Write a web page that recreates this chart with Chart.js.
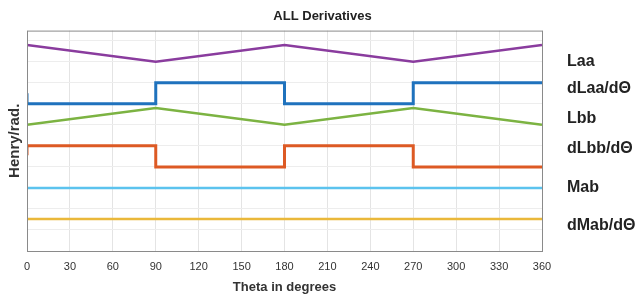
<!DOCTYPE html>
<html>
<head>
<meta charset="utf-8">
<script src="https://cdn.jsdelivr.net/npm/chart.js@4"></script>
<style>
  html, body { margin: 0; padding: 0; background: #fff; }
  #wrap { width: 639px; height: 295px; }
</style>
</head>
<body>
<div id="wrap"><canvas id="myChart"></canvas></div>
<script>
// values (y in arbitrary grid units, no labels shown)
const theta = [0, 90, 180, 270, 360];
const stepTheta = [0, 0, 90, 180, 270, 360];
const laa = [9.8, 9.0, 9.8, 9.0, 9.8];
const dLaa = [7.5, 7.0, 8.0, 7.0, 8.0, 8.0];
const lbb = [6.0, 6.8, 6.0, 6.8, 6.0];
const dLbb = [4.55, 5.0, 4.0, 5.0, 4.0, 4.0];
const mab = [3.0, 3.0, 3.0, 3.0, 3.0];
const dMab = [1.52, 1.52, 1.52, 1.52, 1.52];
const xTicks = [0, 30, 60, 90, 120, 150, 180, 210, 240, 270, 300, 330, 360];
const seriesNames = ["Laa", "dLaa/d\u0398", "Lbb", "dLbb/d\u0398", "Mab", "dMab/d\u0398"];
const nameLevels = [9.0, 7.7, 6.3, 4.85, 3.0, 1.2];

const pts = (xs, ys) => xs.map((x, i) => ({ x: x, y: ys[i] }));

const boxPlugin = {
  id: "box",
  afterDraw(chart) {
    const { ctx, chartArea: a } = chart;
    ctx.save();
    ctx.strokeStyle = "#8a8a8a";
    ctx.lineWidth = 1;
    ctx.strokeRect(a.left + 0.5, a.top + 0.5, a.right - a.left, a.bottom - a.top);
    ctx.restore();
  }
};

const ctx = document.getElementById("myChart").getContext("2d");
const chart = new Chart(ctx, {
  type: "line",
  data: {
    datasets: [
      { label: seriesNames[0], data: pts(theta, laa), borderColor: "#8a3c9e", borderWidth: 2.5 },
      { label: seriesNames[1], data: pts(stepTheta, dLaa), borderColor: "#1f72bd", borderWidth: 3, stepped: "before" },
      { label: seriesNames[2], data: pts(theta, lbb), borderColor: "#7cb342", borderWidth: 2.5 },
      { label: seriesNames[3], data: pts(stepTheta, dLbb), borderColor: "#dd5a24", borderWidth: 3, stepped: "before" },
      { label: seriesNames[4], data: pts(theta, mab), borderColor: "#5cc3ee", borderWidth: 2.5 },
      { label: seriesNames[5], data: pts(theta, dMab), borderColor: "#eab83a", borderWidth: 2.5 },
    ],
  },
  options: {
    responsive: true,
    maintainAspectRatio: false,
    animation: false,
    layout: { padding: { top: 0, right: 0, left: 6, bottom: 0 } },
    elements: { point: { radius: 0 }, line: { tension: 0, fill: false } },
    plugins: {
      legend: { display: false },
      tooltip: { enabled: false },
      title: {
        display: true,
        text: "ALL Derivatives",
        color: "#222",
        font: { family: "Liberation Sans", size: 13, weight: "bold" },
        padding: { top: 9, bottom: 6 },
      },
    },
    scales: {
      x: {
        type: "linear",
        min: 0,
        max: 360,
        afterBuildTicks: (s) => { s.ticks = xTicks.map((v) => ({ value: v })); },
        grid: { color: "#e4e4e4", drawTicks: false },
        border: { display: false },
        ticks: { color: "#333", font: { family: "Liberation Sans", size: 11 }, padding: 9, maxRotation: 0 },
        title: {
          display: true,
          text: "Theta in degrees",
          color: "#333",
          font: { family: "Liberation Sans", size: 13, weight: "bold" },
          padding: { top: 4, bottom: 0 },
        },
        afterFit: (s) => { s.height = 44; },
      },
      y: {
        min: 0,
        max: 10.48,
        afterBuildTicks: (s) => { s.ticks = [1, 2, 3, 4, 5, 6, 7, 8, 9, 10].map((v) => ({ value: v })); },
        grid: { color: "#ededed", drawTicks: false },
        border: { display: false },
        ticks: { display: false },
        title: {
          display: true,
          text: "Henry/rad.",
          color: "#333",
          font: { family: "Liberation Sans", size: 15, weight: "bold" },
          padding: { top: 0, bottom: 4 },
        },
        afterFit: (s) => { s.width = 21; },
      },
      names: {
        position: "right",
        min: 0,
        max: 10.48,
        afterBuildTicks: (s) => { s.ticks = nameLevels.map((v) => ({ value: v })); },
        grid: { display: false, drawTicks: false },
        border: { display: false },
        ticks: {
          padding: 25,
          color: "#222",
          font: { family: "Liberation Sans", size: 16, weight: "bold" },
          callback: (v, i) => seriesNames[i],
        },
        afterFit: (s) => {
          s.width = 97;
          s.paddingTop = 0;
          s.paddingBottom = 0;
        },
      },
    },
  },
  plugins: [boxPlugin],
});
</script>
</body>
</html>
